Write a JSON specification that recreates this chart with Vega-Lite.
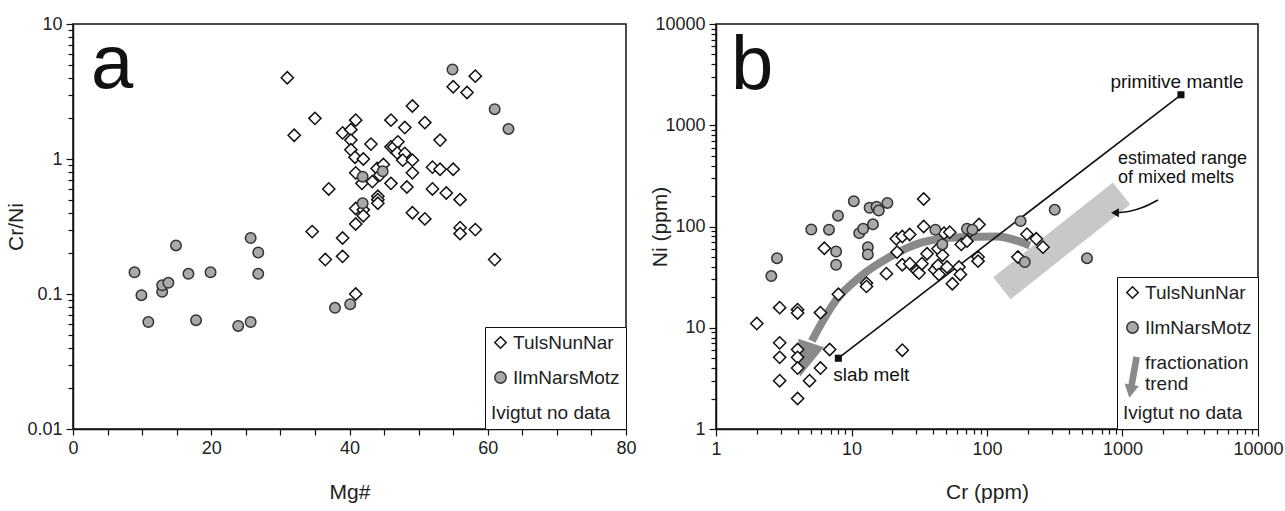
{
"$schema":"https://vega.github.io/schema/vega-lite/v6.json",
"background":"white",
"padding":{"left":4,"top":14,"right":0,"bottom":0},
"align":"none",
"spacing":11,
"config":{
 "font":"Liberation Sans",
 "view":{"stroke":"#111","strokeWidth":1.5},
 "axis":{"domainColor":"#111","domainWidth":1.5,"tickColor":"#111","tickWidth":1.2,"labelFontSize":18,"labelColor":"#222","titleFontSize":21,"titleFontWeight":"normal","titleColor":"#222","grid":false,"labelPadding":4,"labelFlush":false,"labelOverlap":false},
 "legend":{"orient":"bottom-right","offset":0,"titleOrient":"bottom","titleFontSize":19,"titleFontWeight":"normal","titleColor":"#222","titlePadding":16,"labelFontSize":19,"labelColor":"#222","labelOffset":3,"symbolSize":130,"symbolStrokeWidth":1.5,"rowPadding":15,"padding":6,"strokeColor":"#111","fillColor":"white","titleLimit":300,"labelLimit":300}
},
"datasets":{
 "crni":[
  {"series":"TulsNunNar","Mg":31,"CrNi":4.0},{"series":"TulsNunNar","Mg":32,"CrNi":1.5},{"series":"TulsNunNar","Mg":35,"CrNi":2.0},{"series":"TulsNunNar","Mg":37,"CrNi":0.6},
  {"series":"TulsNunNar","Mg":34.6,"CrNi":0.29},{"series":"TulsNunNar","Mg":36.5,"CrNi":0.18},{"series":"TulsNunNar","Mg":39,"CrNi":0.19},{"series":"TulsNunNar","Mg":39,"CrNi":0.26},
  {"series":"TulsNunNar","Mg":39,"CrNi":1.56},{"series":"TulsNunNar","Mg":40.2,"CrNi":1.65},{"series":"TulsNunNar","Mg":40.2,"CrNi":1.38},{"series":"TulsNunNar","Mg":40.2,"CrNi":1.17},
  {"series":"TulsNunNar","Mg":40.9,"CrNi":1.94},{"series":"TulsNunNar","Mg":40.8,"CrNi":1.03},{"series":"TulsNunNar","Mg":40.9,"CrNi":0.79},{"series":"TulsNunNar","Mg":40.9,"CrNi":0.43},
  {"series":"TulsNunNar","Mg":40.9,"CrNi":0.33},{"series":"TulsNunNar","Mg":40.9,"CrNi":0.10},{"series":"TulsNunNar","Mg":42,"CrNi":1.0},{"series":"TulsNunNar","Mg":41.8,"CrNi":0.66},
  {"series":"TulsNunNar","Mg":42,"CrNi":0.42},{"series":"TulsNunNar","Mg":42,"CrNi":0.38},{"series":"TulsNunNar","Mg":43.1,"CrNi":1.29},{"series":"TulsNunNar","Mg":43.3,"CrNi":0.68},
  {"series":"TulsNunNar","Mg":44,"CrNi":0.85},{"series":"TulsNunNar","Mg":44.1,"CrNi":0.53},{"series":"TulsNunNar","Mg":44.1,"CrNi":0.5},{"series":"TulsNunNar","Mg":44.1,"CrNi":0.47},
  {"series":"TulsNunNar","Mg":44.9,"CrNi":0.91},{"series":"TulsNunNar","Mg":44.4,"CrNi":0.76},{"series":"TulsNunNar","Mg":46,"CrNi":1.94},{"series":"TulsNunNar","Mg":46,"CrNi":1.23},
  {"series":"TulsNunNar","Mg":46,"CrNi":0.66},{"series":"TulsNunNar","Mg":46.4,"CrNi":1.23},{"series":"TulsNunNar","Mg":47,"CrNi":1.34},{"series":"TulsNunNar","Mg":46.9,"CrNi":1.11},
  {"series":"TulsNunNar","Mg":48,"CrNi":1.71},{"series":"TulsNunNar","Mg":48,"CrNi":1.1},{"series":"TulsNunNar","Mg":47.7,"CrNi":0.98},{"series":"TulsNunNar","Mg":48.3,"CrNi":0.62},
  {"series":"TulsNunNar","Mg":49.1,"CrNi":2.47},{"series":"TulsNunNar","Mg":49.1,"CrNi":0.98},{"series":"TulsNunNar","Mg":49.1,"CrNi":0.79},{"series":"TulsNunNar","Mg":49.1,"CrNi":0.4},
  {"series":"TulsNunNar","Mg":50.9,"CrNi":1.86},{"series":"TulsNunNar","Mg":50.9,"CrNi":0.36},{"series":"TulsNunNar","Mg":52,"CrNi":0.87},{"series":"TulsNunNar","Mg":52,"CrNi":0.6},
  {"series":"TulsNunNar","Mg":53.1,"CrNi":1.38},{"series":"TulsNunNar","Mg":53.1,"CrNi":0.84},{"series":"TulsNunNar","Mg":54,"CrNi":0.56},{"series":"TulsNunNar","Mg":55,"CrNi":0.84},
  {"series":"TulsNunNar","Mg":55,"CrNi":3.43},{"series":"TulsNunNar","Mg":57,"CrNi":3.11},{"series":"TulsNunNar","Mg":58.2,"CrNi":4.11},{"series":"TulsNunNar","Mg":56,"CrNi":0.5},
  {"series":"TulsNunNar","Mg":56,"CrNi":0.31},{"series":"TulsNunNar","Mg":56,"CrNi":0.28},{"series":"TulsNunNar","Mg":58.2,"CrNi":0.3},{"series":"TulsNunNar","Mg":61,"CrNi":0.18},
  {"series":"IlmNarsMotz","Mg":8.9,"CrNi":0.145},{"series":"IlmNarsMotz","Mg":9.9,"CrNi":0.098},{"series":"IlmNarsMotz","Mg":10.9,"CrNi":0.062},{"series":"IlmNarsMotz","Mg":12.9,"CrNi":0.104},
  {"series":"IlmNarsMotz","Mg":12.9,"CrNi":0.116},{"series":"IlmNarsMotz","Mg":13.8,"CrNi":0.121},{"series":"IlmNarsMotz","Mg":14.9,"CrNi":0.229},{"series":"IlmNarsMotz","Mg":16.7,"CrNi":0.141},
  {"series":"IlmNarsMotz","Mg":17.8,"CrNi":0.064},{"series":"IlmNarsMotz","Mg":19.9,"CrNi":0.145},{"series":"IlmNarsMotz","Mg":23.9,"CrNi":0.058},{"series":"IlmNarsMotz","Mg":25.7,"CrNi":0.062},
  {"series":"IlmNarsMotz","Mg":25.7,"CrNi":0.26},{"series":"IlmNarsMotz","Mg":26.8,"CrNi":0.203},{"series":"IlmNarsMotz","Mg":26.8,"CrNi":0.141},{"series":"IlmNarsMotz","Mg":37.9,"CrNi":0.079},
  {"series":"IlmNarsMotz","Mg":40.1,"CrNi":0.084},{"series":"IlmNarsMotz","Mg":41.9,"CrNi":0.74},{"series":"IlmNarsMotz","Mg":41.9,"CrNi":0.47},{"series":"IlmNarsMotz","Mg":44.8,"CrNi":0.81},
  {"series":"IlmNarsMotz","Mg":54.9,"CrNi":4.6},{"series":"IlmNarsMotz","Mg":61,"CrNi":2.34},{"series":"IlmNarsMotz","Mg":63,"CrNi":1.67}
 ],
 "nicr":[
  {"suite":"TulsNunNar","Cr":2.0,"Ni":11},{"suite":"TulsNunNar","Cr":2.95,"Ni":15.8},{"suite":"TulsNunNar","Cr":2.95,"Ni":7.1},{"suite":"TulsNunNar","Cr":2.95,"Ni":5.1},
  {"suite":"TulsNunNar","Cr":2.95,"Ni":3.0},{"suite":"TulsNunNar","Cr":4.0,"Ni":15.1},{"suite":"TulsNunNar","Cr":4.0,"Ni":14},{"suite":"TulsNunNar","Cr":4.0,"Ni":6.1},
  {"suite":"TulsNunNar","Cr":4.0,"Ni":5.1},{"suite":"TulsNunNar","Cr":4.0,"Ni":4.0},{"suite":"TulsNunNar","Cr":4.0,"Ni":2.0},{"suite":"TulsNunNar","Cr":4.9,"Ni":3.0},
  {"suite":"TulsNunNar","Cr":5.9,"Ni":4.0},{"suite":"TulsNunNar","Cr":5.9,"Ni":14.1},{"suite":"TulsNunNar","Cr":6.3,"Ni":61},{"suite":"TulsNunNar","Cr":6.9,"Ni":6.1},
  {"suite":"TulsNunNar","Cr":8.0,"Ni":21.4},{"suite":"TulsNunNar","Cr":12.9,"Ni":27.6},{"suite":"TulsNunNar","Cr":12.9,"Ni":25.6},{"suite":"TulsNunNar","Cr":18.1,"Ni":34.2},
  {"suite":"TulsNunNar","Cr":21.7,"Ni":55.8},{"suite":"TulsNunNar","Cr":21.4,"Ni":75.6},{"suite":"TulsNunNar","Cr":23.7,"Ni":79.7},{"suite":"TulsNunNar","Cr":23.7,"Ni":41.9},
  {"suite":"TulsNunNar","Cr":23.7,"Ni":6.0},{"suite":"TulsNunNar","Cr":26.9,"Ni":83.4},{"suite":"TulsNunNar","Cr":26.9,"Ni":42.9},{"suite":"TulsNunNar","Cr":30.4,"Ni":36.3},
  {"suite":"TulsNunNar","Cr":31.5,"Ni":34.7},{"suite":"TulsNunNar","Cr":33.1,"Ni":42.9},{"suite":"TulsNunNar","Cr":34.1,"Ni":187},{"suite":"TulsNunNar","Cr":34.1,"Ni":100},
  {"suite":"TulsNunNar","Cr":36.1,"Ni":53.8},{"suite":"TulsNunNar","Cr":41.1,"Ni":37.4},{"suite":"TulsNunNar","Cr":43.5,"Ni":41.3},{"suite":"TulsNunNar","Cr":43.5,"Ni":60.3},
  {"suite":"TulsNunNar","Cr":44.2,"Ni":33.6},{"suite":"TulsNunNar","Cr":47,"Ni":52},{"suite":"TulsNunNar","Cr":48.2,"Ni":86},{"suite":"TulsNunNar","Cr":53.1,"Ni":87.9},
  {"suite":"TulsNunNar","Cr":50.7,"Ni":39.8},{"suite":"TulsNunNar","Cr":55.5,"Ni":27.2},{"suite":"TulsNunNar","Cr":62.1,"Ni":39.8},{"suite":"TulsNunNar","Cr":63.6,"Ni":33.6},
  {"suite":"TulsNunNar","Cr":64.6,"Ni":66.5},{"suite":"TulsNunNar","Cr":71.2,"Ni":71.7},{"suite":"TulsNunNar","Cr":75,"Ni":90},{"suite":"TulsNunNar","Cr":85.9,"Ni":49.9},
  {"suite":"TulsNunNar","Cr":85.9,"Ni":45.5},{"suite":"TulsNunNar","Cr":87.3,"Ni":104.7},{"suite":"TulsNunNar","Cr":169,"Ni":50},{"suite":"TulsNunNar","Cr":197,"Ni":84},
  {"suite":"TulsNunNar","Cr":231,"Ni":75.6},{"suite":"TulsNunNar","Cr":259,"Ni":62.5},
  {"suite":"IlmNarsMotz","Cr":2.56,"Ni":32.4},{"suite":"IlmNarsMotz","Cr":2.82,"Ni":48.7},{"suite":"IlmNarsMotz","Cr":5.05,"Ni":93.4},{"suite":"IlmNarsMotz","Cr":6.82,"Ni":93},
  {"suite":"IlmNarsMotz","Cr":7.95,"Ni":128},{"suite":"IlmNarsMotz","Cr":7.7,"Ni":56.7},{"suite":"IlmNarsMotz","Cr":7.7,"Ni":41.9},{"suite":"IlmNarsMotz","Cr":10.4,"Ni":178},
  {"suite":"IlmNarsMotz","Cr":11.4,"Ni":86},{"suite":"IlmNarsMotz","Cr":12.2,"Ni":95},{"suite":"IlmNarsMotz","Cr":13.2,"Ni":62.5},{"suite":"IlmNarsMotz","Cr":13.2,"Ni":53},
  {"suite":"IlmNarsMotz","Cr":13.6,"Ni":153},{"suite":"IlmNarsMotz","Cr":14.4,"Ni":105},{"suite":"IlmNarsMotz","Cr":15.3,"Ni":157},{"suite":"IlmNarsMotz","Cr":15.9,"Ni":144},
  {"suite":"IlmNarsMotz","Cr":18.4,"Ni":171},{"suite":"IlmNarsMotz","Cr":41.6,"Ni":92.8},{"suite":"IlmNarsMotz","Cr":46.8,"Ni":66.5},{"suite":"IlmNarsMotz","Cr":71.2,"Ni":95},
  {"suite":"IlmNarsMotz","Cr":78,"Ni":93},{"suite":"IlmNarsMotz","Cr":177,"Ni":113},{"suite":"IlmNarsMotz","Cr":190,"Ni":44.5},{"suite":"IlmNarsMotz","Cr":316,"Ni":146},
  {"suite":"IlmNarsMotz","Cr":547,"Ni":48.7}
 ],
 "mixing":[{"end":"slab melt","Cr":8,"Ni":5},{"end":"primitive mantle","Cr":2700,"Ni":2000}],
 "band":[{"Cr":129,"Ni":24.6},{"Cr":984,"Ni":212}],
 "trend":[{"Cr":5.1,"Ni":7.4},{"Cr":5.8,"Ni":10.2},{"Cr":7.7,"Ni":18.7},{"Cr":11.5,"Ni":31.7},{"Cr":19.1,"Ni":49.9},{"Cr":33.7,"Ni":70},{"Cr":63,"Ni":78.5},{"Cr":117,"Ni":79.7},{"Cr":207,"Ni":65}],
 "trendHead":[{"Cr":4.57,"Ni":4.8}],
 "pointer":[{"Cr":900,"Ni":137},{"Cr":1131,"Ni":141.5},{"Cr":1417,"Ni":155},{"Cr":1828,"Ni":183}],
 "pointerHead":[{"Cr":880,"Ni":137}],
 "rangeNote":[{"text":"estimated range","Cr":927,"Ni":465},{"text":"of mixed melts","Cr":927,"Ni":300}]
},
"resolve":{"scale":{"shape":"independent","fill":"independent","stroke":"independent"}},
"hconcat":[
 {
  "width":553,"height":405,
  "encoding":{
   "x":{"field":"Mg","type":"quantitative","scale":{"domain":[0,80],"nice":false,"zero":false},
    "axis":{"title":"Mg#","values":[0,5,10,15,20,25,30,35,40,45,50,55,60,65,70,75,80],"labelExpr":"datum.value % 20 == 0 ? datum.label : ''","tickSize":6,"titleY":52}},
   "y":{"field":"CrNi","type":"quantitative","scale":{"type":"log","domain":[0.01,10],"nice":false},
    "axis":{"title":"Cr/Ni","titleX":-47,"format":"~g","values":[0.01,0.02,0.03,0.04,0.05,0.06,0.07,0.08,0.09,0.1,0.2,0.3,0.4,0.5,0.6,0.7,0.8,0.9,1,2,3,4,5,6,7,8,9,10],
     "labelExpr":"abs(log(datum.value)/LN10 - round(log(datum.value)/LN10)) < 0.001 ? datum.label : ''",
     "tickSize":{"condition":{"test":"abs(log(datum.value)/LN10 - round(log(datum.value)/LN10)) < 0.001","value":7},"value":5}}}
  },
  "layer":[
   {"data":{"name":"crni"},"transform":[{"filter":"datum.series == 'TulsNunNar'"}],
    "mark":{"type":"point","filled":true,"strokeWidth":1.5,"opacity":1,"size":150},
    "encoding":{
     "shape":{"field":"series","type":"nominal","scale":{"domain":["TulsNunNar","IlmNarsMotz"],"range":["diamond","circle"]},"legend":{"title":"Ivigtut no data"}},
     "fill":{"field":"series","type":"nominal","scale":{"domain":["TulsNunNar","IlmNarsMotz"],"range":["white","#a9a9a9"]}},
     "stroke":{"field":"series","type":"nominal","scale":{"domain":["TulsNunNar","IlmNarsMotz"],"range":["#111111","#333333"]}}
    }},
   {"data":{"name":"crni"},"transform":[{"filter":"datum.series == 'IlmNarsMotz'"}],
    "mark":{"type":"point","filled":true,"strokeWidth":1.5,"opacity":1,"size":110},
    "encoding":{
     "shape":{"field":"series","type":"nominal"},
     "fill":{"field":"series","type":"nominal"},
     "stroke":{"field":"series","type":"nominal"}
    }},
   {"data":{"values":[{"panel":"a","Mg":2.6,"CrNi":3.36}]},
    "mark":{"type":"text","fontSize":76,"align":"left","baseline":"alphabetic","color":"#111"},
    "encoding":{"text":{"field":"panel"}}}
  ]
 },
 {
  "width":542,"height":405,
  "encoding":{
   "x":{"field":"Cr","type":"quantitative","scale":{"type":"log","domain":[1,10000],"nice":false},
    "axis":{"title":"Cr (ppm)","titleY":52,"format":"~g","values":[1,2,3,4,5,6,7,8,9,10,20,30,40,50,60,70,80,90,100,200,300,400,500,600,700,800,900,1000,2000,3000,4000,5000,6000,7000,8000,9000,10000],
     "labelExpr":"abs(log(datum.value)/LN10 - round(log(datum.value)/LN10)) < 0.001 ? datum.label : ''",
     "tickSize":{"condition":{"test":"abs(log(datum.value)/LN10 - round(log(datum.value)/LN10)) < 0.001","value":7},"value":5}}},
   "y":{"field":"Ni","type":"quantitative","scale":{"type":"log","domain":[1,10000],"nice":false},
    "axis":{"title":"Ni (ppm)","titleX":-46,"format":"~g","values":[1,2,3,4,5,6,7,8,9,10,20,30,40,50,60,70,80,90,100,200,300,400,500,600,700,800,900,1000,2000,3000,4000,5000,6000,7000,8000,9000,10000],
     "labelExpr":"abs(log(datum.value)/LN10 - round(log(datum.value)/LN10)) < 0.001 ? datum.label : ''",
     "tickSize":{"condition":{"test":"abs(log(datum.value)/LN10 - round(log(datum.value)/LN10)) < 0.001","value":7},"value":5}}}
  },
  "layer":[
   {"data":{"name":"band"},
    "mark":{"type":"line","color":"#c8c8c8","strokeWidth":28,"strokeCap":"butt"},
    "encoding":{}},
   {"data":{"name":"trend"},
    "mark":{"type":"line","color":"#8a8a8a","strokeWidth":8,"strokeCap":"butt","interpolate":"monotone"},
    "encoding":{}},
   {"data":{"name":"trendHead"},
    "mark":{"type":"point","filled":true,"opacity":1,"color":"#8a8a8a","shape":"M-0.75,-1L0.75,-1L0,1Z","size":1296,"angle":18.5,"strokeWidth":0},
    "encoding":{}},
   {"data":{"name":"mixing"},
    "mark":{"type":"line","color":"#111","strokeWidth":1.6},
    "encoding":{}},
   {"data":{"name":"mixing"},
    "mark":{"type":"point","shape":"square","filled":true,"opacity":1,"color":"#111","size":50},
    "encoding":{}},
   {"data":{"name":"nicr"},"transform":[{"filter":"datum.suite == 'TulsNunNar'"}],
    "mark":{"type":"point","filled":true,"strokeWidth":1.5,"opacity":1,"size":150},
    "encoding":{
     "shape":{"field":"suite","type":"nominal","scale":{"domain":["TulsNunNar","IlmNarsMotz","fractionation trend"],"range":["diamond","circle","M0.257,-0.929L1.143,-0.771L0.276,4.108L0.867,4.212L-0.5,5.9L-1.202,3.845L-0.611,3.95Z"]},
      "legend":{"title":"Ivigtut no data","titlePadding":5,"labelExpr":"datum.label == 'fractionation trend' ? ['fractionation', 'trend'] : datum.label"}},
     "fill":{"field":"suite","type":"nominal","scale":{"domain":["TulsNunNar","IlmNarsMotz","fractionation trend"],"range":["white","#a9a9a9","#8a8a8a"]}},
     "stroke":{"field":"suite","type":"nominal","scale":{"domain":["TulsNunNar","IlmNarsMotz","fractionation trend"],"range":["#111111","#333333","#8a8a8a"]}}
    }},
   {"data":{"name":"nicr"},"transform":[{"filter":"datum.suite == 'IlmNarsMotz'"}],
    "mark":{"type":"point","filled":true,"strokeWidth":1.5,"opacity":1,"size":110},
    "encoding":{
     "shape":{"field":"suite","type":"nominal"},
     "fill":{"field":"suite","type":"nominal"},
     "stroke":{"field":"suite","type":"nominal"}
    }},
   {"data":{"name":"mixing"},"transform":[{"filter":"datum.end == 'slab melt'"}],
    "mark":{"type":"text","fontSize":19,"align":"left","baseline":"middle","dx":-5,"dy":17,"color":"#111"},
    "encoding":{"text":{"field":"end"}}},
   {"data":{"name":"mixing"},"transform":[{"filter":"datum.end == 'primitive mantle'"}],
    "mark":{"type":"text","fontSize":19,"align":"center","baseline":"middle","dx":-4,"dy":-13,"color":"#111"},
    "encoding":{"text":{"field":"end"}}},
   {"data":{"name":"rangeNote"},
    "mark":{"type":"text","fontSize":18,"align":"left","baseline":"middle","color":"#111"},
    "encoding":{"text":{"field":"text"}}},
   {"data":{"name":"pointer"},
    "mark":{"type":"line","color":"#111","strokeWidth":1.6,"interpolate":"monotone"},
    "encoding":{}},
   {"data":{"name":"pointerHead"},
    "mark":{"type":"point","shape":"triangle-left","filled":true,"opacity":1,"color":"#111","size":80},
    "encoding":{}},
   {"data":{"values":[{"panel":"b","Cr":1.29,"Ni":2263}]},
    "mark":{"type":"text","fontSize":76,"align":"left","baseline":"alphabetic","color":"#111"},
    "encoding":{"text":{"field":"panel"}}}
  ]
 }
]
}
